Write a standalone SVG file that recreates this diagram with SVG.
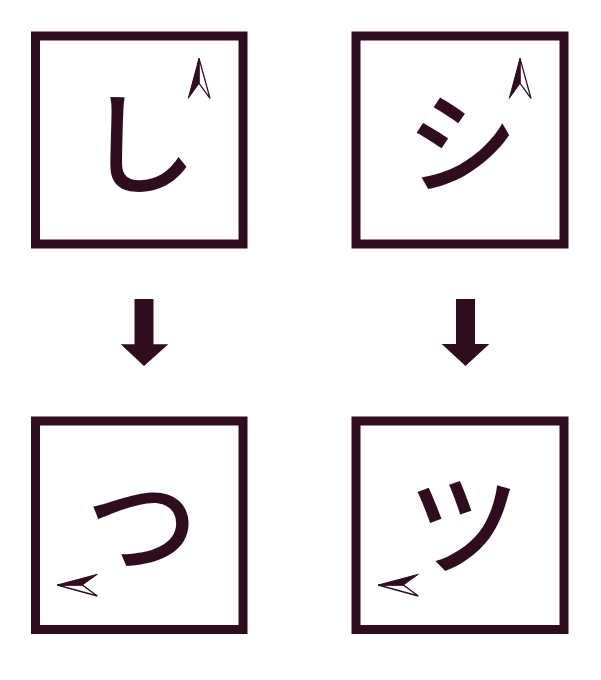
<svg xmlns="http://www.w3.org/2000/svg" width="601" height="680" viewBox="0 0 601 680">
<style>
.frame{fill:none;stroke:#300d1e;stroke-width:9}
.kana{font-family:"Noto Sans CJK JP","Noto Sans CJK SC",sans-serif;font-size:112px;font-weight:500;fill:#300d1e;text-anchor:middle}
.nav-dark{fill:#300d1e;stroke:#300d1e;stroke-width:1;stroke-linejoin:miter}
.nav-light{fill:#ffffff;stroke:#300d1e;stroke-width:1.3;stroke-linejoin:miter}
.down{fill:#300d1e}
</style>
<rect width="601" height="680" fill="#ffffff"/>
<g id="node-shi-hiragana">
<rect class="frame" x="35.5" y="36" width="207.5" height="208"/>
<text class="kana" x="141" y="186">し</text>
<polygon class="nav-light" points="199,58.3 210,98.3 199,83.3"/>
<polygon class="nav-dark" points="199,58.3 188.3,98.3 199,83.3"/>
</g>
<g id="node-shi-katakana">
<rect class="frame" x="356" y="36" width="208" height="208"/>
<text class="kana" x="462" y="185">シ</text>
<polygon class="nav-light" points="520,58.3 531,98.3 520,83.3"/>
<polygon class="nav-dark" points="520,58.3 509.3,98.3 520,83.3"/>
</g>
<g id="node-tsu-hiragana">
<rect class="frame" x="35.5" y="421" width="207.5" height="208.5"/>
<text class="kana" x="142" y="567">つ</text>
<polygon class="nav-light" points="57.3,585 97.3,596 82.3,585"/>
<polygon class="nav-dark" points="57.3,585 97.3,574.3 82.3,585"/>
</g>
<g id="node-tsu-katakana">
<rect class="frame" x="356" y="421" width="208" height="208.5"/>
<text class="kana" x="464" y="567">ツ</text>
<polygon class="nav-light" points="378.3,585 418.3,596 403.3,585"/>
<polygon class="nav-dark" points="378.3,585 418.3,574.3 403.3,585"/>
</g>
<g id="connectors">
<polygon class="down" points="134.5,299 153.5,299 153.5,344.3 168.3,344.3 144,366 120.7,344.3 134.5,344.3"/>
<polygon class="down" points="456,299 475,299 475,344 489.3,344 465.5,366 441.7,344 456,344"/>
</g>
</svg>
